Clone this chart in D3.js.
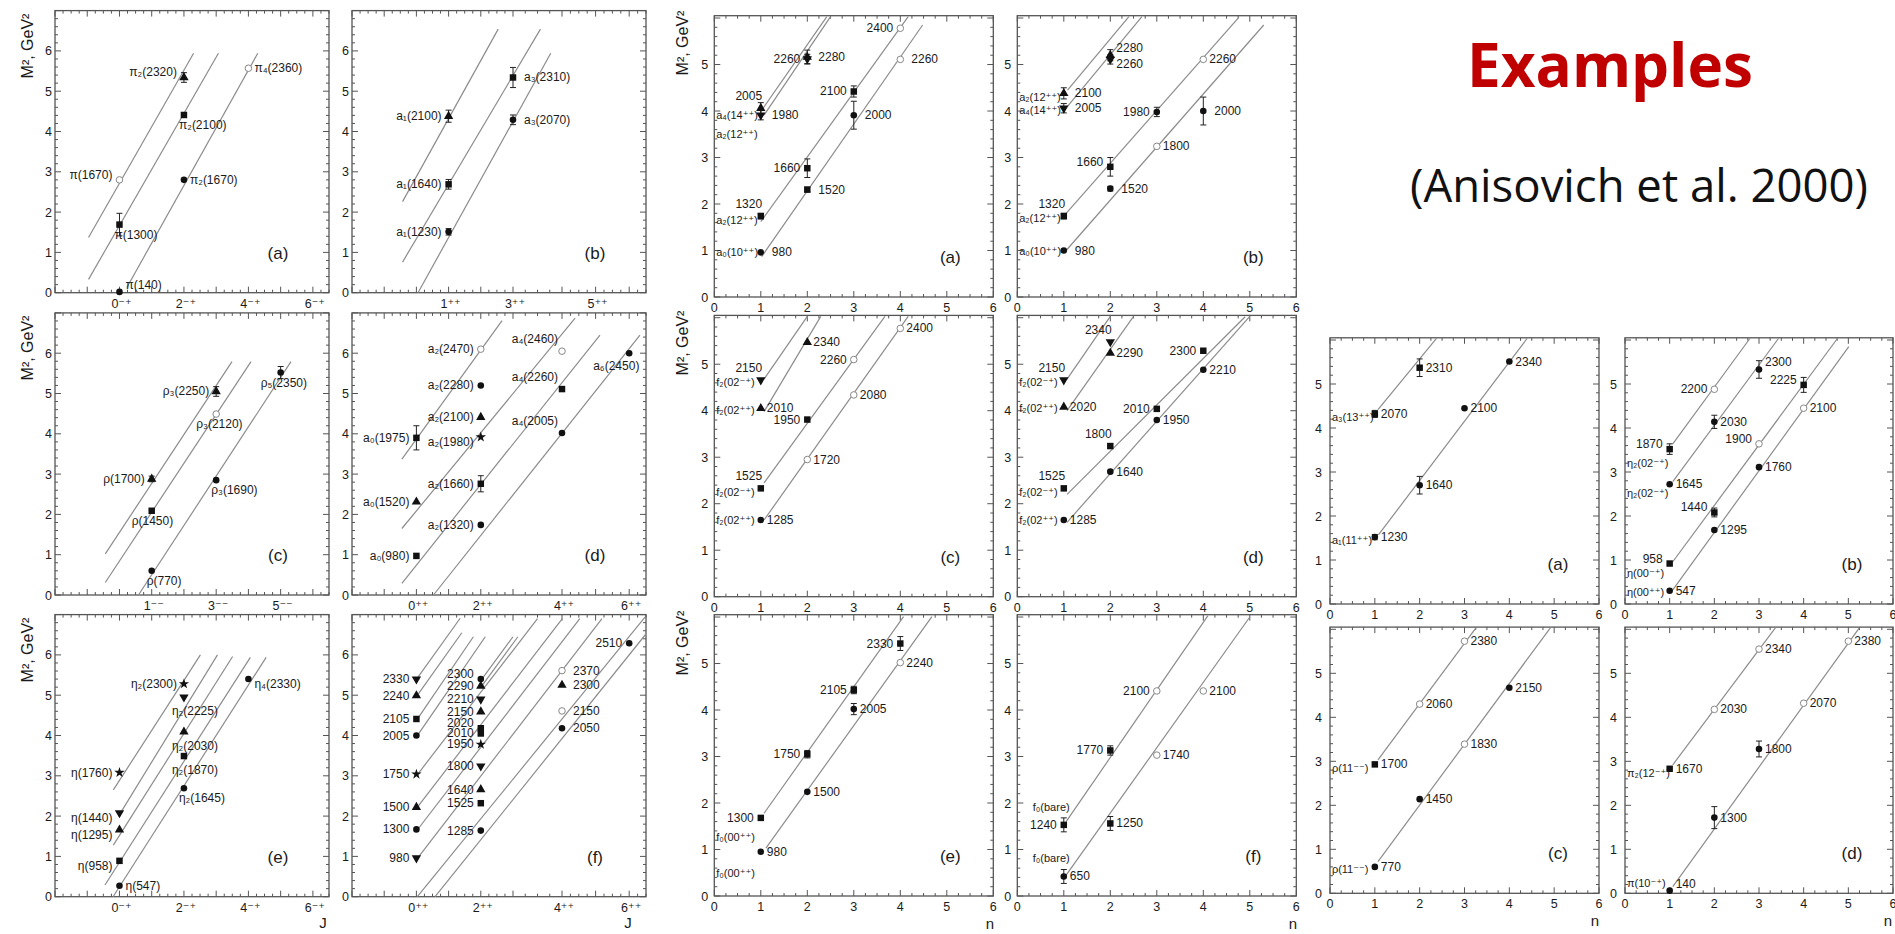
<!DOCTYPE html>
<html>
<head>
<meta charset="utf-8">
<script src="https://cdn.jsdelivr.net/npm/d3@7"></script>
<style>
  body { margin: 0; background: #fff; }
  svg text { font-family: "Liberation Sans", Arial, "DejaVu Sans", sans-serif; fill: #1a1a1a; }
</style>
</head>
<body>
<svg id="chart" width="1895" height="934"></svg>
<script>
// ---- data: M^2 (GeV^2) vs J, left block ----
// point record: [x, M2, error, marker, label]
const laPts = [
  [0, 2.80, 0, "o", "π(1670)"], [0, 1.69, 0.28, "s", "π(1300)"], [0, 0.02, 0, "c", "π(140)"],
  [2, 5.34, 0.12, "t", "π₂(2320)"], [2, 4.41, 0, "s", "π₂(2100)"], [2, 2.80, 0, "c", "π₂(1670)"],
  [4, 5.57, 0, "o", "π₄(2360)"],
];
const laLines = [[-0.96, 1.37, 2.3, 5.94], [-0.96, 0.33, 3.07, 5.94], [0.23, 0.13, 4.29, 5.94]];

const lbPts = [
  [1, 4.38, 0.15, "t", "a₁(2100)"], [1, 2.69, 0.12, "s", "a₁(1640)"], [1, 1.51, 0.08, "c", "a₁(1230)"],
  [3, 5.34, 0.25, "s", "a₃(2310)"], [3, 4.29, 0.12, "c", "a₃(2070)"],
];
const lbLines = [[-0.43, 2.26, 2.54, 6.54], [-0.43, 0.76, 3.56, 6.54], [0.05, 0, 3.77, 5.94]];

const lcPts = [
  [1, 2.88, 0.07, "t", "ρ(1700)"], [1, 2.09, 0, "s", "ρ(1450)"], [1, 0.60, 0, "c", "ρ(770)"],
  [3, 5.05, 0.12, "t", "ρ₃(2250)"], [3, 4.49, 0, "o", "ρ₃(2120)"], [3, 2.85, 0, "c", "ρ₃(1690)"],
  [5, 5.52, 0.15, "c", "ρ₅(2350)"],
];
const lcLines = [[-0.44, 1.02, 3.49, 5.79], [-0.44, 0.31, 4.08, 5.79], [0.59, 0, 5.32, 5.79]];

const ldPts = [
  [0, 3.90, 0.3, "s", "a₀(1975)"], [0, 2.31, 0, "t", "a₀(1520)"], [0, 0.97, 0, "s", "a₀(980)"],
  [2, 6.10, 0, "o", "a₂(2470)"], [2, 5.20, 0, "c", "a₂(2280)"], [2, 4.41, 0, "t", "a₂(2100)"],
  [2, 3.92, 0, "x", "a₂(1980)"], [2, 2.76, 0.2, "s", "a₂(1660)"], [2, 1.74, 0, "c", "a₂(1320)"],
  [4, 6.05, 0, "o", "a₄(2460)"], [4, 5.11, 0, "s", "a₄(2260)"], [4, 4.02, 0, "c", "a₄(2005)"],
  [6, 6.00, 0, "c", "a₆(2450)"],
];
const ldLines = [[-0.45, 3.37, 2.66, 6.81], [-0.45, 1.65, 4.39, 6.87], [-0.45, 0.29, 5.13, 6.45], [0.53, 0, 6.32, 6.45]];

const lePts = [
  [0, 3.08, 0, "x", "η(1760)"], [0, 2.08, 0, "v", "η(1440)"], [0, 1.66, 0, "t", "η(1295)"],
  [0, 0.89, 0, "s", "η(958)"], [0, 0.27, 0, "c", "η(547)"],
  [2, 5.28, 0, "x", "η₂(2300)"], [2, 4.95, 0, "v", "η₂(2225)"], [2, 4.09, 0, "t", "η₂(2030)"],
  [2, 3.49, 0, "s", "η₂(1870)"], [2, 2.69, 0, "c", "η₂(1645)"],
  [4, 5.40, 0, "c", "η₄(2330)"],
];
const leLines = [[-0.19, 2.65, 2.51, 6.0], [0.07, 2.13, 3.04, 6.0], [-0.19, 1.28, 3.51, 5.96], [-0.45, 0.29, 4.06, 5.94], [-0.2, 0, 4.55, 5.94]];

const lfPts = [
  [0, 5.40, 0, "v", "2330"], [0, 4.99, 0, "t", "2240"], [0, 4.41, 0, "s", "2105"], [0, 4.00, 0, "c", "2005"],
  [0, 3.04, 0, "x", "1750"], [0, 2.22, 0, "t", "1500"], [0, 1.67, 0, "c", "1300"], [0, 0.96, 0, "v", "980"],
  [2, 5.40, 0, "c", "2300"], [2, 5.23, 0, "t", "2290"], [2, 4.90, 0, "v", "2210"], [2, 4.59, 0, "t", "2150"],
  [2, 4.18, 0, "s", "2020"], [2, 4.05, 0, "s", "2010"], [2, 3.78, 0, "x", "1950"], [2, 3.24, 0, "v", "1800"],
  [2, 2.66, 0, "t", "1640"], [2, 2.32, 0, "s", "1525"], [2, 1.64, 0, "c", "1285"],
  [4, 5.61, 0, "o", "2370"], [4, 5.25, 0, "t", "2300"], [4, 4.61, 0, "o", "2150"], [4, 4.18, 0, "c", "2050"],
  [6, 6.29, 0, "c", "2510"],
];
const lfLines = [
  [0.05, 5.45, 1.36, 6.91], [0.05, 5.02, 1.41, 6.55], [0.05, 4.43, 1.77, 6.45], [0.05, 4.02, 2.14, 6.45],
  [0.05, 3.05, 3.5, 6.9], [0.05, 2.24, 4.01, 6.9], [0.05, 1.68, 4.53, 6.9], [0.05, 0.97, 5.19, 6.9],
  [0.03, 0, 6.47, 6.94], [0.58, 0, 6.48, 6.5], [2.05, 5.42, 3.0, 6.45], [2.05, 5.25, 3.1, 6.45],
];

// ---- data: M^2 vs n, middle block ----
const maPts = [
  [1, 4.06, 0.12, "t", "2005"], [1, 3.91, 0.1, "v", "1980"], [1, 1.74, 0.06, "s", "1320"], [1, 0.96, 0, "c", "980"],
  [2, 5.16, 0.15, "t", "2280"], [2, 5.12, 0.1, "v", "2260"], [2, 2.77, 0.2, "s", "1660"], [2, 2.31, 0.05, "s", "1520"],
  [3, 4.42, 0.12, "s", "2100"], [3, 3.91, 0.3, "c", "2000"],
  [4, 5.78, 0, "o", "2400"], [4, 5.11, 0, "o", "2260"],
];
const maNotes = [[0.02, 3.91, "a₄(14⁺⁺)"], [0.02, 3.50, "a₂(12⁺⁺)"], [0.02, 1.66, "a₂(12⁺⁺)"], [0.02, 0.97, "a₀(10⁺⁺)"]];
const maLines = [[1, 3.99, 2.42, 6.03], [1.07, 3.91, 2.5, 6.03], [1, 1.62, 4.17, 6.03], [1.02, 0.87, 4.48, 5.85]];

const mbPts = [
  [1, 4.38, 0.12, "t", "2100"], [1, 4.06, 0.1, "v", "2005"], [1, 1.74, 0.06, "s", "1320"], [1, 1.00, 0, "c", "980"],
  [2, 5.20, 0.12, "t", "2280"], [2, 5.11, 0.1, "v", "2260"], [2, 2.80, 0.2, "s", "1660"], [2, 2.33, 0.05, "c", "1520"],
  [3, 3.98, 0.1, "c", "1980"], [3, 3.24, 0, "o", "1800"],
  [4, 5.11, 0, "o", "2260"], [4, 4.00, 0.3, "c", "2000"],
];
const mbNotes = [[0.02, 4.31, "a₂(12⁺⁺)"], [0.02, 4.02, "a₄(14⁺⁺)"], [0.02, 1.70, "a₂(12⁺⁺)"], [0.02, 1.00, "a₀(10⁺⁺)"]];
const mbLines = [[1.08, 4.45, 2.4, 6.03], [1.08, 4.1, 2.68, 6.03], [1.05, 1.8, 4.75, 6.0], [1.05, 1.0, 5.3, 5.85]];

const mcPts = [
  [1, 4.66, 0, "v", "2150"], [1, 4.05, 0, "t", "2010"], [1, 2.33, 0, "s", "1525"], [1, 1.65, 0, "c", "1285"],
  [2, 5.47, 0, "t", "2340"], [2, 3.81, 0, "s", "1950"], [2, 2.95, 0, "o", "1720"],
  [3, 5.10, 0, "o", "2260"], [3, 4.34, 0, "o", "2080"],
  [4, 5.77, 0, "o", "2400"],
];
const mcNotes = [[0.02, 4.62, "f₂(02⁻⁺)"], [0.02, 4.01, "f₂(02⁺⁺)"], [0.02, 2.25, "f₂(02⁻⁺)"], [0.02, 1.65, "f₂(02⁺⁺)"]];
const mcLines = [[1.07, 4.68, 2.0, 6.03], [1.07, 3.98, 2.29, 6.03], [1.07, 2.45, 3.67, 6.03], [1.07, 1.65, 4.17, 6.03]];

const mdPts = [
  [1, 4.66, 0, "v", "2150"], [1, 4.08, 0, "t", "2020"], [1, 2.33, 0, "s", "1525"], [1, 1.65, 0, "c", "1285"],
  [2, 5.48, 0, "v", "2340"], [2, 5.24, 0, "t", "2290"], [2, 3.24, 0, "s", "1800"], [2, 2.69, 0, "c", "1640"],
  [3, 4.04, 0, "s", "2010"], [3, 3.80, 0, "c", "1950"],
  [4, 5.29, 0, "s", "2300"], [4, 4.88, 0, "c", "2210"],
];
const mdNotes = [[0.02, 4.62, "f₂(02⁻⁺)"], [0.02, 4.05, "f₂(02⁺⁺)"], [0.02, 2.25, "f₂(02⁻⁺)"], [0.02, 1.65, "f₂(02⁺⁺)"]];
const mdLines = [[1.07, 4.68, 2.0, 6.03], [1.07, 4.0, 2.5, 6.03], [1.07, 2.2, 4.9, 6.02], [1.07, 1.6, 5.0, 6.03]];

const mePts = [
  [1, 1.68, 0, "s", "1300"], [1, 0.95, 0, "c", "980"],
  [2, 3.05, 0.08, "s", "1750"], [2, 2.24, 0, "c", "1500"],
  [3, 4.43, 0.08, "s", "2105"], [3, 4.02, 0.12, "c", "2005"],
  [4, 5.43, 0.15, "s", "2330"], [4, 5.02, 0, "o", "2240"],
];
const meNotes = [[0.02, 1.26, "f₀(00⁺⁺)"], [0.02, 0.50, "f₀(00⁺⁺)"]];
const meLines = [[1.07, 1.78, 4.07, 6.01], [1.11, 1.03, 4.68, 6.01]];

const mfPts = [
  [1, 1.53, 0.15, "s", "1240"], [1, 0.42, 0.15, "c", "650"],
  [2, 3.13, 0.1, "s", "1770"], [2, 1.56, 0.15, "s", "1250"],
  [3, 4.41, 0, "o", "2100"], [3, 3.03, 0, "o", "1740"],
  [4, 4.41, 0, "o", "2100"],
];
const mfNotes = [[0.31, 1.92, "f₀(bare)"], [0.31, 0.81, "f₀(bare)"]];
const mfLines = [[1.05, 1.6, 4.1, 6.03], [1.05, 0.45, 5.0, 6.0]];

// ---- data: M^2 vs n, right block ----
const raPts = [
  [1, 4.32, 0.08, "s", "2070"], [1, 1.52, 0.06, "c", "1230"],
  [2, 5.37, 0.2, "s", "2310"], [2, 2.70, 0.2, "c", "1640"],
  [3, 4.45, 0, "c", "2100"], [4, 5.51, 0, "c", "2340"],
];
const raNotes = [[0.02, 4.25, "a₃(13⁺⁺)"], [0.02, 1.45, "a₁(11⁺⁺)"]];
const raLines = [[1.07, 4.42, 2.38, 6.04], [1.08, 1.57, 4.4, 6.04]];

const rbPts = [
  [1, 3.52, 0.12, "s", "1870"], [1, 2.72, 0, "c", "1645"], [1, 0.92, 0, "s", "958"], [1, 0.30, 0, "c", "547"],
  [2, 4.88, 0, "o", "2200"], [2, 4.14, 0.15, "c", "2030"], [2, 2.08, 0.1, "s", "1440"], [2, 1.68, 0, "c", "1295"],
  [3, 5.33, 0.2, "c", "2300"], [3, 3.64, 0, "o", "1900"], [3, 3.11, 0, "c", "1760"],
  [4, 4.98, 0.17, "s", "2225"], [4, 4.45, 0, "o", "2100"],
];
const rbNotes = [[0.02, 3.21, "η₂(02⁻⁺)"], [0.02, 2.52, "η₂(02⁻⁺)"], [0.02, 0.70, "η(00⁻⁺)"], [0.02, 0.28, "η(00⁺⁺)"]];
const rbLines = [[1.07, 3.64, 2.8, 6.04], [1.07, 2.78, 3.44, 6.04], [1.07, 0.96, 4.76, 6.04], [1.07, 0.32, 5.01, 5.85]];

const rcPts = [
  [1, 2.93, 0, "s", "1700"], [1, 0.60, 0, "c", "770"],
  [2, 4.30, 0, "o", "2060"], [2, 2.14, 0, "c", "1450"],
  [3, 5.73, 0, "o", "2380"], [3, 3.39, 0, "o", "1830"],
  [4, 4.67, 0, "c", "2150"],
];
const rcNotes = [[0.02, 2.85, "ρ(11⁻⁻)"], [0.02, 0.55, "ρ(11⁻⁻)"]];
const rcLines = [[1.07, 3.03, 3.26, 6.04], [1.07, 0.72, 4.92, 6.04]];

const rdPts = [
  [1, 2.83, 0, "s", "1670"], [1, 0.06, 0, "c", "140"],
  [2, 4.18, 0, "o", "2030"], [2, 1.72, 0.25, "c", "1300"],
  [3, 5.55, 0, "o", "2340"], [3, 3.28, 0.18, "c", "1800"],
  [4, 4.32, 0, "o", "2070"], [5, 5.73, 0, "o", "2380"],
];
const rdNotes = [[0.02, 2.73, "π₂(12⁻⁺)"], [0.02, 0.23, "π(10⁻⁺)"]];
const rdLines = [[1.07, 2.92, 3.37, 6.04], [1.07, 0.15, 5.25, 6.04]];

// tick labels
const jEven = [0, 2, 4, 6];
const jOdd = [1, 3, 5];
const jTxtPS = ["0⁻⁺", "2⁻⁺", "4⁻⁺", "6⁻⁺"];
const jTxtA1 = ["1⁺⁺", "3⁺⁺", "5⁺⁺"];
const jTxtV = ["1⁻⁻", "3⁻⁻", "5⁻⁻"];
const jTxtS = ["0⁺⁺", "2⁺⁺", "4⁺⁺", "6⁺⁺"];
const nTicks = [0, 1, 2, 3, 4, 5, 6];
const yTicksJ = [0, 1, 2, 3, 4, 5, 6];
const yTicksN = [0, 1, 2, 3, 4, 5];

// label placement per point (layout, kept apart from the values)
const laAt = ["lu", "b", "ru", "lu", "b", "r", "r"];
const lbAt = ["l", "l", "l", "rr", "rr"];
const lcAt = ["l", "bl", "b", "l", "bl", "b", "bl"];
const ldAt = ["l", "l", "l", "l", "l", "l", "ld", "l", "l", "ul", "ul", "ul", "bll"];
const leAt = ["l", "ld", "ld", "ld", "r", "l", "bb", "bb", "bb", "b", "rd"];
const lfAt = ["l", "l", "l", "l", "l", "l", "l", "l",
  "lu", "l", "l", "l", "lu", "l", "l", "l", "l", "l", "l", "rr", "rr", "rr", "rr", "l"];
const maAt = ["u", "rr", "u", "rr", "rr", "l", "l", "rr", "l", "rr", "l", "rr"];
const mbAt = ["rr", "rr", "u", "rr", "ru", "rd", "lu", "rr", "l", "r", "r", "rr"];
const mcAt = ["u", "r", "u", "r", "r", "l", "r", "l", "r", "r"];
const mdAt = ["u", "r", "u", "r", "u", "r", "u", "r", "l", "r", "l", "r"];
const meAt = ["l", "r", "l", "r", "l", "r", "l", "r"];
const mfAt = ["l", "r", "l", "r", "l", "r", "r"];
const raAt = ["r", "r", "r", "r", "r", "r"];
const rbAt = ["lu", "r", "lu", "r", "l", "r", "lu", "r", "ru", "lu", "r", "lu", "r"];
const rcAt = ["r", "r", "r", "r", "r", "r", "r"];
const rdAt = ["r", "ru", "r", "r", "r", "r", "r", "r"];

const OFF = {
  l: [-7, 4, "end"], lu: [-7, -1, "end"], ld: [-7, 9, "end"], ul: [-4, -8, "end"],
  r: [6, 4, "start"], rr: [11, 4, "start"], ru: [6, -3, "start"], rd: [6, 9, "start"],
  u: [-12, -8, "middle"], b: [-5, 14, "start"], bl: [-20, 14, "start"],
  bb: [-12, 18, "start"], bll: [-36, 17, "start"],
};

const svg = d3.select("#chart");

const leftY = (b) => d3.scaleLinear().domain([0, 7]).range([b, b - 282.1]);
const midY = (b) => d3.scaleLinear().domain([0, 6.05]).range([b, b - 281.3]);
const rightY = (b) => d3.scaleLinear().domain([0, 6.05]).range([b, b - 266.2]);
const LX1 = d3.scaleLinear().domain([-2, 6.5]).range([55, 329]);
const LX2 = d3.scaleLinear().domain([-2, 3, 4, 6.5]).range([352, 513, 562, 646]);
const MX1 = d3.scaleLinear().domain([0, 6]).range([714.3, 993.3]);
const MX2 = d3.scaleLinear().domain([0, 6]).range([1017.3, 1296.3]);
const RX1 = d3.scaleLinear().domain([0, 6]).range([1330, 1599]);
const RX2 = d3.scaleLinear().domain([0, 6]).range([1625, 1893]);

const shapes = {
  c: d3.symbolCircle, o: d3.symbolCircle, s: d3.symbolSquare,
  t: d3.symbolTriangle, v: d3.symbolTriangle, x: d3.symbolStar,
};
const sizes = { c: 34, o: 34, s: 42, t: 38, v: 38, x: 34 };

const drawPanel = (p) => {
  const g = svg.append("g");
  const xr = p.x.range(), xd = p.x.domain();
  const X0 = xr[0], X1 = xr[xr.length - 1];
  const [Y0, Y1] = p.y.range();
  const yb = p.y.domain()[1];

  // ticks on all four sides
  let tk = "";
  d3.range(Math.ceil(xd[0] / 0.25) * 0.25, xd[xd.length - 1] + 1e-6, 0.25).forEach((v) => {
    const L = Math.abs(v - Math.round(v)) < 1e-6 ? 6 : 3;
    const px = p.x(v);
    tk += `M${px},${Y0}v${-L}M${px},${Y1}v${L}`;
  });
  d3.range(0, yb + 1e-6, 0.2).forEach((v) => {
    const L = Math.abs(v - Math.round(v)) < 1e-6 ? 6 : 3;
    const py = p.y(v);
    tk += `M${X0},${py}h${L}M${X1},${py}h${-L}`;
  });
  g.append("path").attr("d", tk).attr("stroke", "#555").attr("stroke-width", 1).attr("fill", "none");
  g.append("rect")
    .attr("x", X0).attr("y", Y1).attr("width", X1 - X0).attr("height", Y0 - Y1)
    .attr("fill", "none").attr("stroke", "#555").attr("stroke-width", 1.3);

  // tick labels
  g.selectAll("text.yt").data(p.yt).join("text")
    .attr("x", X0 - p.ytGap).attr("y", (d) => p.y(d) + 4.5)
    .attr("text-anchor", "end").style("font-size", "12.5px").text((d) => d);
  g.selectAll("text.xt").data(p.xt).join("text")
    .attr("x", (d) => p.x(d) + (p.xtxt ? 2 : 0)).attr("y", Y0 + 15)
    .attr("text-anchor", "middle").style("font-size", "12.5px")
    .text((d, i) => (p.xtxt ? p.xtxt[i] : d));

  // trajectories
  const line = d3.line().x((d) => p.x(d[0])).y((d) => p.y(d[1]));
  g.selectAll("path.traj").data(p.lines).join("path")
    .attr("d", (l) => line([[l[0], l[1]], [l[2], l[3]]]))
    .attr("fill", "none").attr("stroke", "#8c8c8c").attr("stroke-width", 1.2);

  // error bars
  const eb = p.pts.filter((d) => d[2] > 0);
  g.selectAll("path.err").data(eb).join("path")
    .attr("d", (d) => {
      const px = p.x(d[0]), t = p.y(d[1] + d[2]), b = p.y(d[1] - d[2]);
      return `M${px},${t}V${b}M${px - 3},${t}h6M${px - 3},${b}h6`;
    })
    .attr("stroke", "#222").attr("stroke-width", 1).attr("fill", "none");

  // markers
  g.selectAll("path.mk").data(p.pts).join("path")
    .attr("d", (d) => d3.symbol().type(shapes[d[3]]).size(sizes[d[3]])())
    .attr("transform", (d) => `translate(${p.x(d[0])},${p.y(d[1])})${d[3] === "v" ? " rotate(180)" : ""}`)
    .attr("fill", (d) => (d[3] === "o" ? "#fff" : "#111"))
    .attr("stroke", (d) => (d[3] === "o" ? "#888" : "none"))
    .attr("stroke-width", 1);

  // point labels
  g.selectAll("text.lab").data(p.pts).join("text")
    .attr("x", (d, i) => p.x(d[0]) + OFF[p.at[i]][0])
    .attr("y", (d, i) => p.y(d[1]) + OFF[p.at[i]][1])
    .attr("text-anchor", (d, i) => OFF[p.at[i]][2])
    .style("font-size", "12px")
    .text((d) => d[4]);

  // side notes
  g.selectAll("text.note").data(p.notes || []).join("text")
    .attr("x", (d) => p.x(d[0]) + 1).attr("y", (d) => p.y(d[1]) + 4)
    .style("font-size", "11px").text((d) => d[2]);

  // panel letter
  g.append("text")
    .attr("x", X1 - p.letGap).attr("y", Y0 - 34)
    .attr("text-anchor", "middle").style("font-size", "17px")
    .text(`(${p.letter})`);
  return g;
};

const panels = [
  { x: LX1, y: leftY(292.7), pts: laPts, at: laAt, lines: laLines, xt: jEven, xtxt: jTxtPS, yt: yTicksJ, ytGap: 3, letter: "a", letGap: 51 },
  { x: LX2, y: leftY(292.7), pts: lbPts, at: lbAt, lines: lbLines, xt: jOdd, xtxt: jTxtA1, yt: yTicksJ, ytGap: 3, letter: "b", letGap: 51 },
  { x: LX1, y: leftY(595), pts: lcPts, at: lcAt, lines: lcLines, xt: jOdd, xtxt: jTxtV, yt: yTicksJ, ytGap: 3, letter: "c", letGap: 51 },
  { x: LX2, y: leftY(595), pts: ldPts, at: ldAt, lines: ldLines, xt: jEven, xtxt: jTxtS, yt: yTicksJ, ytGap: 3, letter: "d", letGap: 51 },
  { x: LX1, y: leftY(896.7), pts: lePts, at: leAt, lines: leLines, xt: jEven, xtxt: jTxtPS, yt: yTicksJ, ytGap: 3, letter: "e", letGap: 51 },
  { x: LX2, y: leftY(896.7), pts: lfPts, at: lfAt, lines: lfLines, xt: jEven, xtxt: jTxtS, yt: yTicksJ, ytGap: 3, letter: "f", letGap: 51 },
  { x: MX1, y: midY(297), pts: maPts, at: maAt, lines: maLines, notes: maNotes, xt: nTicks, yt: yTicksN, ytGap: 6, letter: "a", letGap: 43 },
  { x: MX2, y: midY(297), pts: mbPts, at: mbAt, lines: mbLines, notes: mbNotes, xt: nTicks, yt: yTicksN, ytGap: 6, letter: "b", letGap: 43 },
  { x: MX1, y: midY(596.7), pts: mcPts, at: mcAt, lines: mcLines, notes: mcNotes, xt: nTicks, yt: yTicksN, ytGap: 6, letter: "c", letGap: 43 },
  { x: MX2, y: midY(596.7), pts: mdPts, at: mdAt, lines: mdLines, notes: mdNotes, xt: nTicks, yt: yTicksN, ytGap: 6, letter: "d", letGap: 43 },
  { x: MX1, y: midY(896), pts: mePts, at: meAt, lines: meLines, notes: meNotes, xt: nTicks, yt: yTicksN, ytGap: 6, letter: "e", letGap: 43 },
  { x: MX2, y: midY(896), pts: mfPts, at: mfAt, lines: mfLines, notes: mfNotes, xt: nTicks, yt: yTicksN, ytGap: 6, letter: "f", letGap: 43 },
  { x: RX1, y: rightY(604), pts: raPts, at: raAt, lines: raLines, notes: raNotes, xt: nTicks, yt: yTicksN, ytGap: 8, letter: "a", letGap: 41 },
  { x: RX2, y: rightY(604), pts: rbPts, at: rbAt, lines: rbLines, notes: rbNotes, xt: nTicks, yt: yTicksN, ytGap: 8, letter: "b", letGap: 41 },
  { x: RX1, y: rightY(893.3), pts: rcPts, at: rcAt, lines: rcLines, notes: rcNotes, xt: nTicks, yt: yTicksN, ytGap: 8, letter: "c", letGap: 41 },
  { x: RX2, y: rightY(893.3), pts: rdPts, at: rdAt, lines: rdLines, notes: rdNotes, xt: nTicks, yt: yTicksN, ytGap: 8, letter: "d", letGap: 41 },
];
panels.forEach(drawPanel);

// axis titles
[[27, 46], [27, 348], [27, 650], [682, 43], [682, 343], [682, 643]].forEach(([x, y]) => {
  svg.append("text")
    .attr("transform", `translate(${x + 6},${y}) rotate(-90)`)
    .attr("text-anchor", "middle").style("font-size", "16px")
    .text("M², GeV²");
});
[[323, 928, "J"], [628, 928, "J"], [990, 929, "n"], [1293, 929, "n"], [1595, 926, "n"], [1888, 926, "n"]].forEach(([x, y, t]) => {
  svg.append("text").attr("x", x).attr("y", y).attr("text-anchor", "middle")
    .style("font-size", "15px").text(t);
});

// heading
const fit = (sel, size, width) => {
  const w = sel.node().getComputedTextLength();
  sel.style("font-size", `${(size * width) / w}px`);
};
const t1 = svg.append("text")
  .attr("x", 1610).attr("y", 87).attr("text-anchor", "middle")
  .style("font-family", "'Open Sans', Lato, sans-serif").style("font-weight", 700)
  .style("font-size", "66px").style("fill", "#c00000").text("Examples");
fit(t1, 66, 286);
const t2 = svg.append("text")
  .attr("x", 1639).attr("y", 202).attr("text-anchor", "middle")
  .style("font-family", "'Open Sans', Lato, sans-serif").style("font-weight", 400)
  .style("font-size", "46px").style("fill", "#111").text("(Anisovich et al. 2000)");
fit(t2, 46, 458);
</script>
</body>
</html>
